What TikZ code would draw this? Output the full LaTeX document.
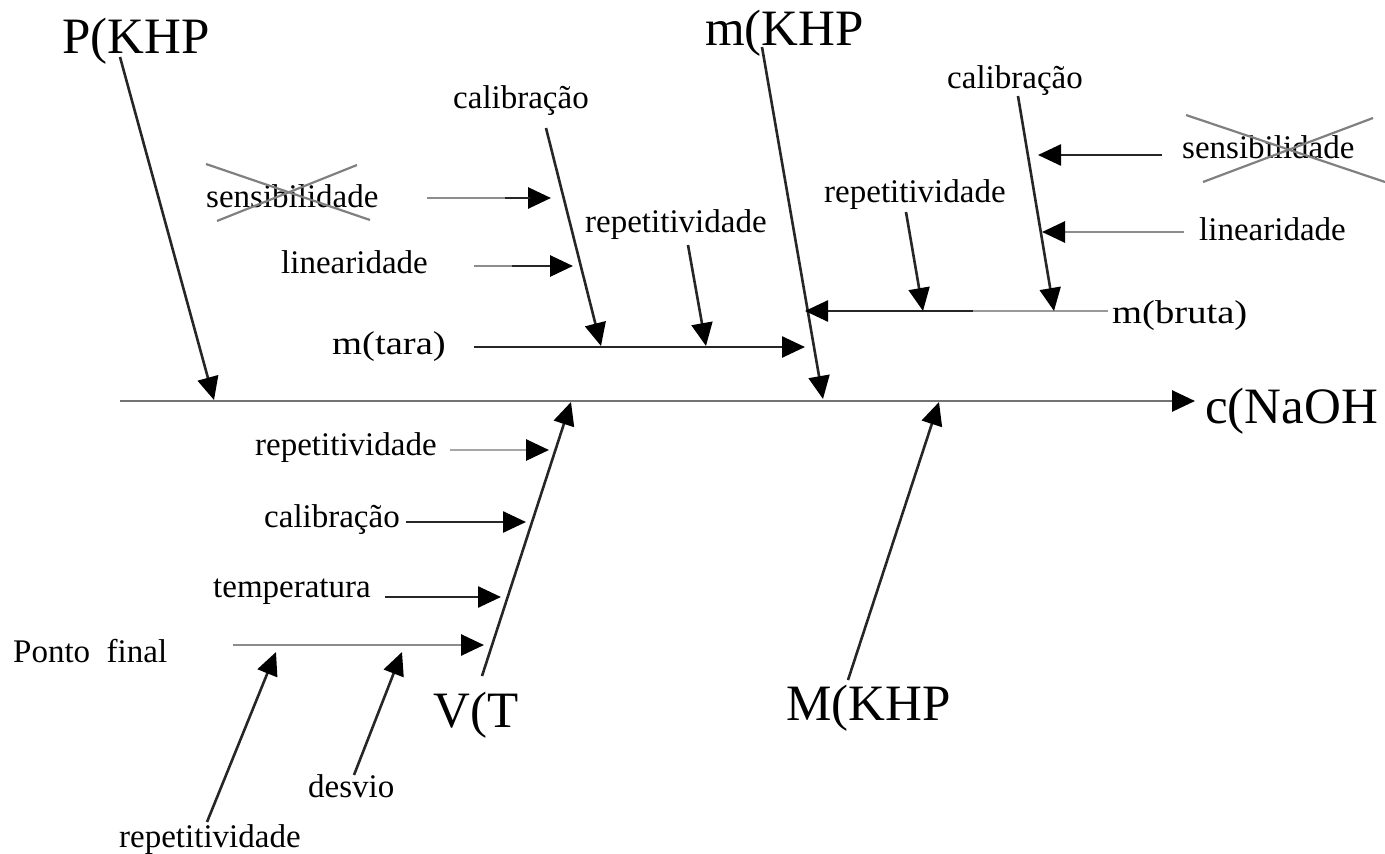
\documentclass[tikz,border=0pt]{standalone}
\usepackage{fontspec}
\setmainfont{Liberation Serif}
\usetikzlibrary{arrows.meta}
\begin{document}
\begin{tikzpicture}[x=1pt,y=-1pt,
  lbl/.style={anchor=base west, inner sep=0pt, font=\fontsize{33}{36}\selectfont},
  big/.style={anchor=base west, inner sep=0pt, font=\fontsize{51}{56}\selectfont},
  tip/.style={-{Triangle[length=23pt,width=21pt,color=black]}},
  bone/.style={tip, line width=2.6pt, draw=black!85},
  pale/.style={tip, line width=2.8pt, draw=black!45},
  cross/.style={line width=2.2pt, draw=black!50}]
\useasboundingbox (0,0) rectangle (1385,854);

% main effect and spine
\node[big] (naoh) at (1205,423) {c(NaOH};
\coordinate (spineS) at (120,401);
\coordinate (spineE) at (1195,401);
\draw[pale, draw=black!55] (spineS) -- (spineE);

% main causes
\node[big] (pkhp) at (62,53) {P(KHP};
\node[big] (mkhp) at (705,45) {m(KHP};
\node[big] (vt)   at (433,727) {V(T};
\node[big] (Mkhp) at (786,720) {M(KHP};

\coordinate (pS) at (120,57);   \coordinate (pE) at (214,400);
\coordinate (mS) at (762,47);   \coordinate (mE) at (823,399);
\coordinate (vS) at (482,676);  \coordinate (vE) at (571,402);
\coordinate (MS) at (848,680);  \coordinate (ME) at (939,402);
\draw[bone] (pS) -- (pE);
\draw[bone] (mS) -- (mE);
\draw[bone] (vS) -- (vE);
\draw[bone] (MS) -- (ME);

% m(tara) branch
\node[lbl] (tara) at (332,354) {\scalebox{1.17}[1]{m(tara)}};
\coordinate (taraS) at (474,347); \coordinate (taraE) at (805,347);
\draw[bone] (taraS) -- (taraE);

\node[lbl] (calA) at (453,108) {calibração};
\coordinate (calAS) at (546,128); \coordinate (calAE) at (601,346);
\draw[bone] (calAS) -- (calAE);

\node[lbl] (repA) at (585,232) {repetitividade};
\coordinate (repAS) at (688,245); \coordinate (repAE) at (706,346);
\draw[bone] (repAS) -- (repAE);

\node[lbl] (senA) at (206,207) {sensibilidade};
\draw[cross] (206,164) -- (370,220);
\draw[cross] (357,165) -- (217,221);
\coordinate (senAS) at (427,198); \coordinate (senAE) at (551,198);
\draw[pale] (senAS) -- (senAE);
\draw[line width=2.6pt, black!85] (505,198) -- (530,198);

\node[lbl] (linA) at (281,273) {linearidade};
\coordinate (linAS) at (474,266); \coordinate (linAE) at (573,266);
\draw[pale] (linAS) -- (linAE);
\draw[line width=2.6pt, black!85] (512,266) -- (550,266);

% m(bruta) branch
\node[lbl] (bruta) at (1112,323) {\scalebox{1.17}[1]{m(bruta)}};
\coordinate (brS) at (1108,311); \coordinate (brM) at (973,311); \coordinate (brE) at (805,311);
\draw[line width=2.8pt, black!40] (brS) -- (brM);
\draw[bone] (brM) -- (brE);

\node[lbl] (calB) at (947,88) {calibração};
\coordinate (calBS) at (1018,96); \coordinate (calBE) at (1054,311);
\draw[bone] (calBS) -- (calBE);

\node[lbl] (repB) at (824,202) {repetitividade};
\coordinate (repBS) at (906,212); \coordinate (repBE) at (923,311);
\draw[bone] (repBS) -- (repBE);

\node[lbl] (senB) at (1182,158) {sensibilidade};
\draw[cross] (1186,115) -- (1385,182);
\draw[cross] (1373,118) -- (1203,182);
\coordinate (senBS) at (1162,155); \coordinate (senBE) at (1038,155);
\draw[bone] (senBS) -- (senBE);

\node[lbl] (linB) at (1199,240) {linearidade};
\coordinate (linBS) at (1184,232); \coordinate (linBE) at (1042,232);
\draw[pale] (linBS) -- (linBE);

% V(T) branch
\node[lbl] (repC) at (255,455) {repetitividade};
\coordinate (repCS) at (450,450); \coordinate (repCE) at (549,450);
\draw[pale, draw=black!35] (repCS) -- (repCE);

\node[lbl] (calC) at (264,527) {calibração};
\coordinate (calCS) at (406,522); \coordinate (calCE) at (526,522);
\draw[bone] (calCS) -- (calCE);

\node[lbl] (temp) at (213,597) {temperatura};
\coordinate (tempS) at (385,597); \coordinate (tempE) at (501,597);
\draw[bone] (tempS) -- (tempE);

\node[lbl] (ponto) at (13,662) {Ponto\ \ final};
\coordinate (pontoS) at (233,645); \coordinate (pontoE) at (484,645);
\draw[pale] (pontoS) -- (pontoE);

\node[lbl] (desvio) at (308,797) {desvio};
\coordinate (desS) at (354,775); \coordinate (desE) at (402,652);
\draw[bone] (desS) -- (desE);

\node[lbl] (repD) at (119,847) {repetitividade};
\coordinate (repDS) at (207,822); \coordinate (repDE) at (276,652);
\draw[bone] (repDS) -- (repDE);
\end{tikzpicture}
\end{document}
